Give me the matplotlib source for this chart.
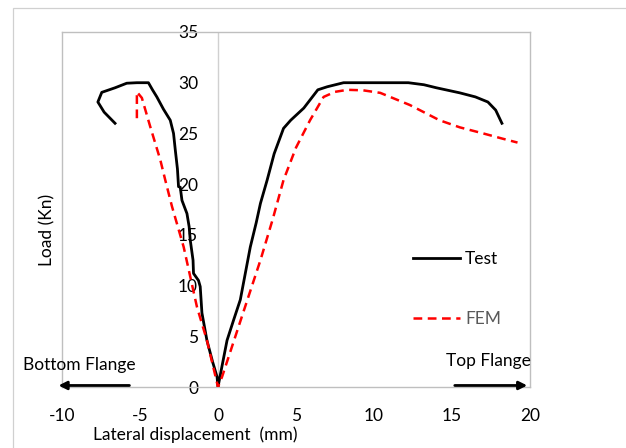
import matplotlib
matplotlib.use("Agg")
import matplotlib.pyplot as plt
from matplotlib.patches import Rectangle

plt.rcParams['font.family'] = ['Lato', 'DejaVu Sans']
plt.rcParams['axes.unicode_minus'] = False

# Test curve (lateral displacement mm, load kN)
test_x = [-6.6, -7.3, -7.7, -7.45, -6.6, -5.85, -5.2, -4.46, -4.2, -3.92, -3.5, -3.06,
          -2.85, -2.74, -2.6, -2.53, -2.42, -2.31, -1.99, -1.85, -1.78, -1.6, -1.57, -1.25,
          -1.14, -1.03, -0.71, -0.35, -0.06, 0.0, 0.25, 0.58, 1.0, 1.43, 2.07, 2.45, 2.72,
          3.15, 3.6, 4.2, 4.66, 5.5, 6.4, 7.0, 8.05, 10.0, 12.2, 13.2, 14.0, 15.5, 16.5,
          17.3, 17.8, 18.2]
test_y = [26.0, 27.1, 28.1, 29.05, 29.5, 29.95, 30.0, 30.0, 29.3, 28.6, 27.4, 26.3,
          25.0, 23.4, 21.5, 19.75, 19.7, 18.4, 17.1, 15.8, 14.5, 12.5, 11.2, 10.5,
          9.9, 7.3, 4.6, 2.5, 1.0, 0.0, 2.0, 4.6, 6.6, 8.6, 13.8, 16.2, 18.1,
          20.4, 23.0, 25.5, 26.3, 27.5, 29.3, 29.6, 30.0, 30.0, 30.0, 29.8, 29.5, 29.0, 28.6,
          28.1, 27.3, 26.0]

# FEM curve
fem_x = [-5.2, -5.2, -4.88, -4.35, -3.7, -3.38, -2.95, -2.2, -1.35, -0.71, 0.0,
         0.26, 1.5, 2.72, 3.5, 4.2, 5.0, 5.9, 6.77, 7.5, 8.3, 9.3, 10.4, 12.3, 14.2,
         15.5, 17.0, 18.2, 19.2]
fem_y = [26.5, 29.1, 28.5, 25.7, 22.4, 20.4, 17.8, 13.8, 7.9, 4.6, 0.0,
         1.0, 6.8, 12.5, 16.5, 20.4, 23.6, 26.3, 28.6, 29.1, 29.3, 29.25, 29.0, 27.8, 26.3,
         25.6, 25.0, 24.5, 24.1]

x_ticks = [-10, -5, 0, 5, 10, 15, 20]
y_ticks = [0, 5, 10, 15, 20, 25, 30, 35]

fig = plt.figure(figsize=(6.26, 4.48), dpi=100)
ax = fig.add_axes([62 / 626, 61 / 448, 468 / 626, 355 / 448])

# outer chart border
fig.add_artist(Rectangle((13 / 626, -0.1), 1.0, 1.0 - 8.5 / 448 + 0.1, transform=fig.transFigure,
                         fill=False, edgecolor='#d0d0d0', linewidth=0.9))

grey = '#bfbfbf'
for s in ax.spines.values():
    s.set_color(grey)
    s.set_linewidth(1.0)
ax.axvline(0, color='#d0d0d0', linewidth=1.0, zorder=1)

ax.plot(test_x, test_y, color='black', linewidth=2.0, label='Test', zorder=3)
ax.plot(fem_x, fem_y, color='#ff0000', linewidth=1.8, dashes=(3.5, 2.2), label='FEM', zorder=4)

ax.set_xlim(-10, 20)
ax.set_ylim(0, 35)
ax.set_xticks(x_ticks)
ax.set_yticks(y_ticks)
ax.tick_params(axis='both', length=0, labelsize=12.5)
ax.tick_params(axis='x', pad=15)
# y tick labels sit just left of the zero line
ax.tick_params(axis='y', pad=-98)

ax.set_xlabel('Lateral displacement  (mm)', fontsize=12.5)
ax.xaxis.set_label_coords(0.285, -0.112)
ax.set_ylabel('Load (Kn)', fontsize=12.5)
ax.yaxis.set_label_coords(-0.013, 0.442)

# flange arrows
ax.annotate('', xy=(-10.4, 0.15), xytext=(-5.5, 0.15),
            arrowprops=dict(arrowstyle='-|>', color='black', lw=2.0, mutation_scale=12),
            annotation_clip=False)
ax.annotate('', xy=(20.0, 0.15), xytext=(15.0, 0.15),
            arrowprops=dict(arrowstyle='-|>', color='black', lw=2.0, mutation_scale=12),
            annotation_clip=False)
ax.text(-12.5, 2.2, 'Bottom Flange', fontsize=12.5, ha='left', va='center', clip_on=False)
ax.text(14.6, 2.6, 'Top Flange', fontsize=12.5, ha='left', va='center', clip_on=False)

leg = ax.legend(loc='center left', bbox_to_anchor=(0.75, 0.276), frameon=False,
                fontsize=12.5, handlelength=2.7, handletextpad=0.3, labelspacing=2.5,
                borderpad=0, borderaxespad=0)
leg.get_texts()[1].set_color('#595959')

fig.savefig('out.png', dpi=100)
